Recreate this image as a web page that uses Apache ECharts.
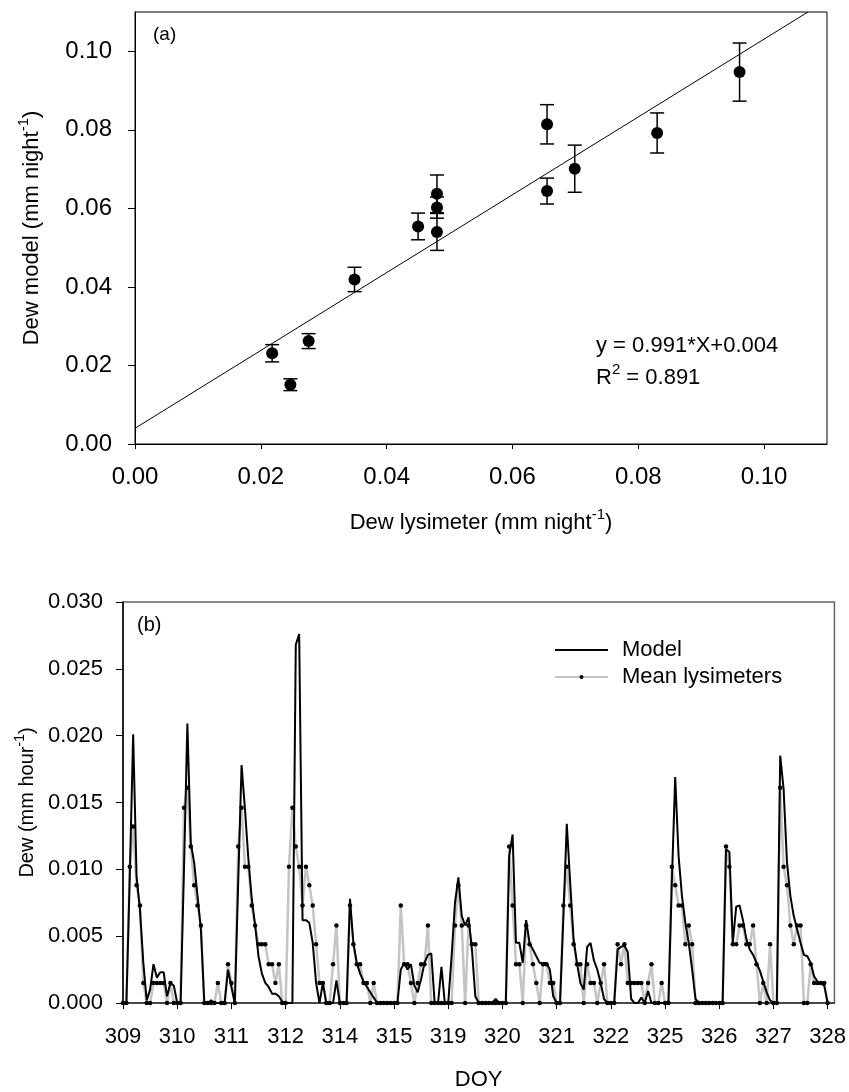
<!DOCTYPE html>
<html><head><meta charset="utf-8">
<script src="https://cdn.jsdelivr.net/npm/echarts@6/dist/echarts.min.js"></script>
<style>html,body{margin:0;padding:0;background:#fff}#c{width:849px;height:1092px}</style>
</head><body><div id="c"></div>
<script>
// ---------- Panel (a) data ----------
const scatterX   = [0.0218, 0.0247, 0.0276, 0.0349, 0.0450, 0.0480, 0.0480, 0.0480, 0.0655, 0.0655, 0.0699, 0.0830, 0.0961];
const scatterY   = [0.0231, 0.0151, 0.0262, 0.0419, 0.0554, 0.0637, 0.0602, 0.0540, 0.0814, 0.0644, 0.0701, 0.0792, 0.0947];
const scatterErr = [0.0022, 0.0015, 0.0019, 0.0031, 0.0034, 0.0048, 0.0027, 0.0047, 0.0050, 0.0033, 0.0060, 0.0051, 0.0074];
const fitSlope = 0.991, fitIntercept = 0.004;
const axisATicks = [0, 0.02, 0.04, 0.06, 0.08, 0.10];

// ---------- Panel (b) data ----------
const doyLabels = ['309','310','311','312','314','315','319','320','321','322','325','326','327','328'];
const samplesPerDay = 16;
const lysimeter = [
  0,0,.0102,.0132,.0088,.0073,.0015,0,0,.0015,.0015,.0015,.0015,0,.0015,0,          // 309
  0,0,.0146,.0161,.0117,.0088,.0073,.0058,0,0,0,0,.0015,0,0,.0029,                   // 310
  .0015,0,.0117,.0146,.0102,.0102,.0073,.0058,.0044,.0044,.0044,.0029,.0029,.0015,.0029,0, // 311
  0,.0102,.0146,.0117,.0102,.0073,.0102,.0088,.0073,.0044,.0015,.0015,0,0,.0029,.0058, // 312
  0,0,0,.0073,.0044,.0029,.0029,.0015,.0015,0,.0015,0,0,0,0,0,                       // 314
  0,0,.0073,.0029,.0029,.0015,0,.0015,.0029,.0029,.0058,0,0,0,0,0,                   // 315
  0,0,.0058,.0088,.0058,0,.0058,.0044,.0044,0,0,0,0,0,0,0,                           // 319
  0,0,.0117,.0073,.0029,.0029,0,.0058,.0044,.0029,.0015,0,.0029,.0029,.0015,.0015,   // 320
  0,0,.0073,.0102,.0073,.0044,.0029,.0029,0,.0029,.0015,.0015,0,.0015,.0029,0,       // 321
  0,0,.0044,.0029,.0044,.0015,.0015,.0015,.0015,.0015,0,.0015,.0029,0,0,.0015,       // 322
  0,0,.0102,.0088,.0073,.0073,.0044,.0058,.0044,0,0,0,0,0,0,0,                       // 325
  0,0,.0117,.0102,.0044,.0044,.0058,.0058,.0044,.0044,.0058,.0029,0,.0015,0,.0044,   // 326
  0,0,.0161,.0102,.0088,.0058,.0044,.0058,.0058,0,0,.0029,.0015,.0015,.0015,.0015,   // 327
  0                                                                                   // 328
];
const model = [
  0,0,.0095,.0201,.0095,.0070,.0030,.0002,.0010,.0029,.0019,.0023,.0023,.0005,.0015,.0013, // 309
  0,0,.0100,.0209,.0120,.0105,.0080,.0055,0,0,.0002,0,0,0,0,.0025,                   // 310
  .0012,0,.0090,.0178,.0145,.0108,.0078,.0058,.0035,.0022,.0015,.0012,.0007,.0007,.0005,.0001, // 311
  0,0,0,.0268,.0276,.0062,.0062,.0060,.0045,.0015,0,.0015,0,0,0,.0017,               // 312
  0,0,0,.0078,.0045,.0030,.0022,.0016,.0012,.0008,.0004,0,0,0,0,0,                   // 314
  0,0,.0025,.0030,.0025,.0029,.0013,.0008,.0018,.0030,.0036,.0037,0,0,.0027,0,       // 315
  0,.0035,.0075,.0094,.0065,.0058,.0064,.0040,.0005,0,0,0,0,0,.0003,0,               // 319
  0,0,.0110,.0126,.0045,.0045,.0030,.0062,.0045,.0040,.0035,.0030,.0030,.0030,.0025,.0005, // 320
  0,0,.0065,.0134,.0090,.0048,.0030,.0015,.0010,.0042,.0045,.0032,.0025,.0015,.0003,0, // 321
  0,0,.0040,.0042,.0043,.0038,.0003,0,0,.0004,0,.0009,0,0,0,0,                       // 322
  0,0,.0090,.0169,.0110,.0080,.0060,.0045,.0025,.0003,0,0,0,0,0,0,                   // 325
  0,0,.0115,.0113,.0045,.0072,.0073,.0062,.0048,.0040,.0036,.0030,.0024,.0016,.0008,.0002, // 326
  0,0,.0185,.0160,.0105,.0080,.0065,.0055,.0045,.0036,.0035,.0030,.0020,.0016,.0015,.0013, // 327
  0                                                                                   // 328
];

const FONT = 'Liberation Sans, Arial, sans-serif';
const chart = echarts.init(document.getElementById('c'), null, {renderer: 'canvas'});

const yMaxA = 0.11;
const fitLine = [[0, fitIntercept], [(yMaxA - fitIntercept) / fitSlope, yMaxA]];
const dayTicks = doyLabels.map((d, k) => k * samplesPerDay);

chart.setOption({
  animation: false,
  backgroundColor: '#fff',
  textStyle: {fontFamily: FONT},
  grid: [
    {left: 135, top: 12, width: 692, height: 432, show: true, borderColor: '#000', borderWidth: 1},
    {left: 123, top: 602, width: 712, height: 409, show: true, borderColor: '#666', borderWidth: 1.5}
  ],
  xAxis: [
    {
      type: 'value', gridIndex: 0, min: 0, max: 0.11,
      name: '{n|Dew lysimeter (mm night}{s|-1}{n|)}', nameLocation: 'middle', nameGap: 63,
      nameTextStyle: {rich: {n: {fontSize: 22, fontFamily: FONT, color: '#000'}, s: {fontSize: 15, fontFamily: FONT, color: '#000', padding: [0, 0, 16, 0]}}},
      axisLine: {lineStyle: {color: '#000', width: 1}},
      axisTick: {show: true, length: 5, customValues: axisATicks, lineStyle: {color: '#000'}},
      axisLabel: {customValues: axisATicks, formatter: v => v.toFixed(2), fontSize: 24, color: '#000', margin: 21, fontFamily: FONT},
      splitLine: {show: false}
    },
    {
      type: 'value', gridIndex: 1, min: 0, max: 210,
      name: 'DOY', nameLocation: 'middle', nameGap: 66,
      nameTextStyle: {fontSize: 22, color: '#000', fontFamily: FONT},
      axisLine: {lineStyle: {color: '#333', width: 1.5}},
      axisTick: {show: true, length: 6, customValues: dayTicks, lineStyle: {color: '#000'}},
      axisLabel: {customValues: dayTicks, formatter: v => doyLabels[Math.round(v / samplesPerDay)], fontSize: 22, color: '#000', margin: 23, fontFamily: FONT},
      splitLine: {show: false}
    }
  ],
  yAxis: [
    {
      type: 'value', gridIndex: 0, min: 0, max: yMaxA,
      name: '{n|Dew model (mm night}{s|-1}{n|)}', nameLocation: 'middle', nameGap: 88, nameRotate: 90,
      nameTextStyle: {rich: {n: {fontSize: 22, fontFamily: FONT, color: '#000'}, s: {fontSize: 15, fontFamily: FONT, color: '#000', padding: [0, 0, 16, 0]}}},
      axisLine: {lineStyle: {color: '#000', width: 1}},
      axisTick: {show: true, length: 7, customValues: axisATicks, lineStyle: {color: '#000'}},
      axisLabel: {customValues: axisATicks, formatter: v => v.toFixed(2), fontSize: 24, color: '#000', margin: 23, fontFamily: FONT},
      splitLine: {show: false}
    },
    {
      type: 'value', gridIndex: 1, min: 0, max: 0.03, interval: 0.005,
      name: '{n|Dew (mm hour}{s|-1}{n|)}', nameLocation: 'middle', nameGap: 80, nameRotate: 90,
      nameTextStyle: {rich: {n: {fontSize: 20, fontFamily: FONT, color: '#000'}, s: {fontSize: 14, fontFamily: FONT, color: '#000', padding: [0, 0, 14, 0]}}},
      axisLine: {lineStyle: {color: '#000', width: 1.5}},
      axisTick: {show: true, length: 7, lineStyle: {color: '#000'}},
      axisLabel: {formatter: v => v.toFixed(3), fontSize: 22, color: '#000', margin: 20, fontFamily: FONT},
      splitLine: {show: false}
    }
  ],
  legend: {
    data: [
      {name: 'Model', itemStyle: {color: 'rgba(0,0,0,0)', opacity: 0, borderWidth: 0}},
      {name: 'Mean lysimeters'}
    ],
    orient: 'vertical', left: 549, top: 632, itemWidth: 53, itemHeight: 5, itemGap: 1,
    textStyle: {fontSize: 22, lineHeight: 26, color: '#000', fontFamily: FONT, padding: [0, 0, 0, 9]},
    selectedMode: false
  },
  series: [
    {
      type: 'line', xAxisIndex: 0, yAxisIndex: 0, data: fitLine, showSymbol: false, symbol: 'none',
      lineStyle: {color: '#000', width: 1}, silent: true
    },
    {
      type: 'custom', xAxisIndex: 0, yAxisIndex: 0,
      data: scatterX.map((x, i) => [x, scatterY[i] - scatterErr[i], scatterY[i] + scatterErr[i]]),
      encode: {x: 0, y: [1, 2]},
      renderItem: function (params, api) {
        const lo = api.coord([api.value(0), api.value(1)]);
        const hi = api.coord([api.value(0), api.value(2)]);
        const hw = 7;
        const st = {stroke: '#000', lineWidth: 1.5};
        return {type: 'group', children: [
          {type: 'line', shape: {x1: lo[0], y1: lo[1], x2: hi[0], y2: hi[1]}, style: st},
          {type: 'line', shape: {x1: lo[0] - hw, y1: lo[1], x2: lo[0] + hw, y2: lo[1]}, style: st},
          {type: 'line', shape: {x1: hi[0] - hw, y1: hi[1], x2: hi[0] + hw, y2: hi[1]}, style: st}
        ]};
      },
      silent: true
    },
    {
      type: 'scatter', xAxisIndex: 0, yAxisIndex: 0,
      data: scatterX.map((x, i) => [x, scatterY[i]]),
      symbol: 'circle', symbolSize: 12, itemStyle: {color: '#000', opacity: 1}, silent: true
    },
    {
      name: 'Mean lysimeters', type: 'line', xAxisIndex: 1, yAxisIndex: 1,
      data: lysimeter.map((v, i) => [i, v]),
      symbol: 'circle', symbolSize: 4.5, showSymbol: true,
      lineStyle: {color: '#c4c4c4', width: 2.5}, itemStyle: {color: '#000', borderWidth: 0},
      z: 2, silent: true
    },
    {
      name: 'Model', type: 'line', xAxisIndex: 1, yAxisIndex: 1,
      data: model.map((v, i) => [i, v]),
      symbol: 'none', showSymbol: false,
      lineStyle: {color: '#000', width: 2}, itemStyle: {color: '#000'},
      z: 3, silent: true
    }
  ],
  graphic: [
    {type: 'text', left: 153, top: 25, style: {text: '(a)', fontSize: 19, fill: '#000', fontFamily: FONT}},
    {type: 'text', left: 137, top: 615, style: {text: '(b)', fontSize: 20, fill: '#000', fontFamily: FONT}},
    {type: 'text', left: 596, top: 335, style: {text: 'y = 0.991*X+0.004', fontSize: 22, fill: '#000', fontFamily: FONT}},
    {type: 'text', left: 596, top: 362, style: {
      text: '{n|R}{s|2}{n| = 0.891}', fontFamily: FONT,
      rich: {n: {fontSize: 22, fill: '#000', fontFamily: FONT}, s: {fontSize: 15, fill: '#000', fontFamily: FONT, padding: [0, 0, 16, 0]}}
    }}
  ]
});
</script>
</body></html>
